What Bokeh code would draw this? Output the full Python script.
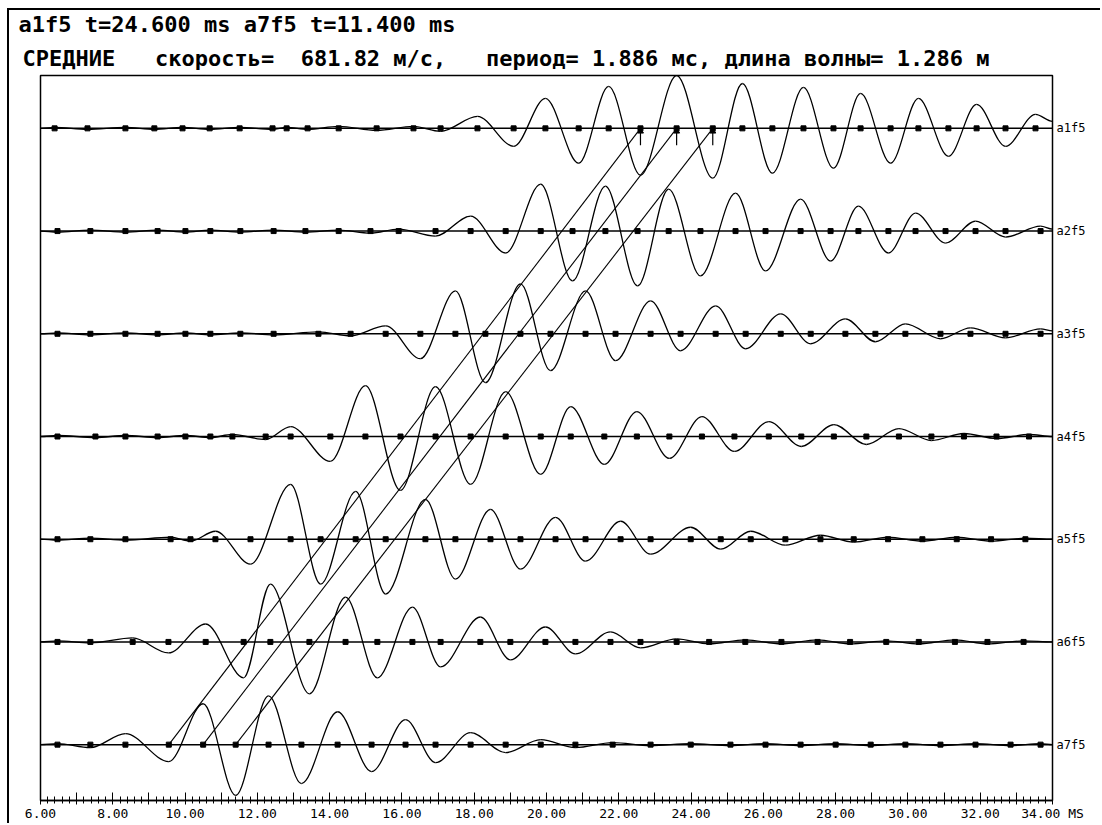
from bokeh.plotting import figure
from bokeh.models import Range1d, FixedTicker, LinearAxis, Title, ColumnDataSource
from bokeh.embed import file_html
from bokeh.resources import INLINE

# ---------------- data ----------------
trace_names = ["a1f5", "a2f5", "a3f5", "a4f5", "a5f5", "a6f5", "a7f5"]

# extrema of each trace: time (ms) and amplitude (in plot y units, 103 per trace spacing)
a1f5_t = [6.39, 7.30, 8.35, 9.15, 9.93, 10.68, 11.51, 12.42, 12.81, 13.39, 14.25, 15.30, 16.32, 17.07,
          18.09, 19.09, 19.97, 20.89, 21.72, 22.60, 23.60, 24.60, 25.42, 26.25, 27.11, 27.94, 28.69,
          29.52, 30.29, 31.12, 31.90, 32.70, 33.53]
a1f5_a = [1, -1, 1, -1, 1, -1, 1, -1, 1, -1, 2, -2, 2, -3,
          12, -18, 30, -35, 42, -47, 53, -50, 45, -45, 41, -40, 35, -35, 30, -28, 24, -18, 14]

a2f5_t = [6.47, 7.38, 8.35, 9.24, 10.01, 10.70, 11.53, 12.45, 13.33, 14.25, 15.13, 15.91,
          16.93, 17.90, 18.87, 19.84, 20.72, 21.63, 22.52, 23.38, 24.26, 25.23, 26.06, 27.03,
          27.86, 28.63, 29.46, 30.21, 31.04, 31.87, 32.70, 33.67]
a2f5_a = [-1, 1, -1, 1, -1, 1, -1, 1, -1, 1, -2, 2,
          -5, 15, -22, 47, -50, 45, -55, 42, -45, 38, -40, 32, -30, 25, -22, 18, -12, 10, -6, 5]

a3f5_t = [6.47, 7.38, 8.35, 9.24, 10.01, 10.70, 11.53, 12.45, 13.69, 14.58,
          15.55, 16.51, 17.48, 18.31, 19.28, 20.11, 21.08, 21.91, 22.88, 23.71, 24.68, 25.51,
          26.48, 27.31, 28.27, 29.10, 29.93, 30.90, 31.73, 32.70, 33.67]
a3f5_a = [1, -1, 1, -1, 1, -1, 1, -1, 2, -2,
          8, -25, 43, -49, 50, -37, 43, -27, 33, -17, 28, -15, 20, -10, 15, -8, 10, -5, 6, -4, 5]

a4f5_t = [6.47, 7.52, 8.35, 9.24, 10.01, 10.70, 11.31, 12.23,
          12.92, 14.02, 14.99, 15.96, 16.93, 17.90, 18.87, 19.84, 20.67, 21.60, 22.50, 23.40,
          24.30, 25.20, 26.15, 27.05, 27.95, 28.85, 29.75, 30.65, 31.55, 32.45, 33.35]
a4f5_a = [1, -1, 1, -1, 1, -1, 2, -3,
          10, -25, 51, -54, 50, -48, 45, -38, 30, -28, 25, -22, 20, -15, 15, -10, 12, -8, 8, -4, 3, -2, 2]

a5f5_t = [6.47, 7.38, 8.35, 9.60, 10.15,
          10.84, 11.81, 12.92, 13.75, 14.72, 15.55, 16.65, 17.48, 18.45, 19.28, 20.25, 21.08,
          22.05, 22.88, 23.99, 24.82, 25.65, 26.61, 27.58,
          28.50, 29.45, 30.40, 31.35, 32.30, 33.25]
a5f5_a = [-1, 1, -1, 2, -2,
          8, -25, 55, -45, 48, -55, 40, -40, 30, -30, 22, -22, 18, -15, 12, -10, 8, -6, 4,
          -3, 2, -2, 2, -2, 1]

a6f5_t = [6.47, 7.38, 8.55,
          9.54, 10.57, 11.62, 12.36, 13.44, 14.44, 15.32, 16.29, 17.07, 18.17, 19.00, 19.97,
          20.80, 21.77, 22.60,
          23.60, 24.50, 25.50, 26.50, 27.50, 28.40, 29.40, 30.30, 31.30, 32.20, 33.20]
a6f5_a = [1, -1, 4,
          -11, 18, -36, 58, -52, 45, -36, 35, -25, 25, -18, 15, -12, 10, -6,
          3, -2, 2, -2, 2, -2, 1, -2, 2, -2, 1]

a7f5_t = [6.47, 7.38, 8.35, 9.55, 10.50, 11.40, 12.31, 13.22, 14.22, 15.16, 16.10, 16.93,
          17.90, 18.87, 19.84, 20.80, 21.83, 22.88, 23.99, 25.09, 26.06, 27.03, 28.00, 28.97,
          29.93, 30.90, 31.87, 32.84, 33.67]
a7f5_a = [1, -3, 11, -17, 41, -51, 49, -39, 33, -27, 25, -18, 12, -8, 5, -3, 2, -1, 1, -1,
          1, -1, 1, -1, 1, -1, 1, -1, 1]

# value of each trace at the right edge of the window
end_amp = [7, 2, 3, 0, 0, 0, 0]

# phase-correlation lines: time on a7f5 -> time on a1f5 (ms)
line_t_a7 = [9.55, 10.50, 11.40]
line_t_a1 = [22.60, 23.60, 24.60]

NB = "\u00a0"  # keeps the wide gaps of the original header
title_1 = "a1f5 t=24.600 ms a7f5 t=11.400 ms"
title_2 = ("СРЕДНИЕ" + NB * 2 + " скорость=" + NB + " 681.82 м/с," + NB * 2
           + " период= 1.886 мс, длина волны= 1.286 м")

x_major_ticks = [6, 7, 8, 9, 10, 11, 12, 13, 14, 15, 16, 17, 18, 19, 20,
                 21, 22, 23, 24, 25, 26, 27, 28, 29, 30, 31, 32, 33, 34]
x_tick_labels = ["6.00", "", "8.00", "", "10.00", "", "12.00", "", "14.00", "", "16.00", "",
                 "18.00", "", "20.00", "", "22.00", "", "24.00", "", "26.00", "", "28.00", "",
                 "30.00", "", "32.00", "", "34.00 MS"]

# ---------------- layout constants ----------------
W, H = 1100, 823
T0, T1 = 6.0, 34.0
SP = 103
baselines = [SP * (6 - i) for i in range(7)]
MONO = "DejaVu Sans Mono"

traces = [(a1f5_t, a1f5_a), (a2f5_t, a2f5_a), (a3f5_t, a3f5_a), (a4f5_t, a4f5_a),
          (a5f5_t, a5f5_a), (a6f5_t, a6f5_a), (a7f5_t, a7f5_a)]

p = figure(width=W, height=H, x_range=Range1d(T0, T1), y_range=Range1d(-56, SP * 6 + 53),
           output_backend="svg", toolbar_location=None, title=None,
           min_border_left=40, min_border_right=48, min_border_top=75, min_border_bottom=21,
           y_axis_location=None)
p.grid.visible = False
p.background_fill_color = "white"
p.border_fill_color = None
p.outline_line_color = "black"
p.outline_line_width = 1.5
p.outline_line_alpha = 1.0
# outer frame lines (left and top) of the whole window
p.styles = {
    "background-color": "white",
    "background-image": "linear-gradient(#000, #000), linear-gradient(#000, #000)",
    "background-size": "2px 100%, 100% 2px",
    "background-position": "7px 8px, 7px 8px",
    "background-repeat": "no-repeat",
}

# bottom axis
xa = p.xaxis[0]
xa.ticker = FixedTicker(ticks=x_major_ticks,
                        minor_ticks=[T0 + 0.2 * k for k in range(141)])
xa.major_label_overrides = {t: lab for t, lab in zip(x_major_ticks, x_tick_labels)}
xa.axis_line_color = "black"
xa.axis_line_width = 1.5
xa.major_tick_line_color = "black"
xa.minor_tick_line_color = "black"
xa.major_tick_in = 8
xa.major_tick_out = 4
xa.minor_tick_in = 4
xa.minor_tick_out = 3
xa.major_label_standoff = 1
xa.major_label_text_font = MONO
xa.major_label_text_font_size = "13px"
xa.major_label_text_color = "black"

# right axis with trace names
ra = LinearAxis(ticker=FixedTicker(ticks=baselines),
                major_label_overrides={b: n for b, n in zip(baselines, trace_names)},
                axis_line_color=None, major_tick_in=0, major_tick_out=0,
                minor_tick_in=0, minor_tick_out=0, major_label_standoff=4,
                major_label_text_font=MONO, major_label_text_font_size="12px",
                major_label_text_color="black")
p.add_layout(ra, "right")

# header texts (second line nearest the plot, first line on top)
p.add_layout(Title(text=title_2, align="left", offset=-18, standoff=9,
                   text_font=MONO, text_font_style="bold", text_font_size="22px",
                   text_color="black"), "above")
p.add_layout(Title(text=title_1, align="left", offset=-22, standoff=6,
                   text_font=MONO, text_font_style="bold", text_font_size="22px",
                   text_color="black"), "above")

# baselines
p.segment(x0=[T0] * 7, x1=[T1] * 7, y0=baselines, y1=baselines, line_color="black", line_width=1.5)

# waveforms as smooth curves through the extrema
K = 1.0 / 3.0
seg = dict(x0=[], y0=[], x1=[], y1=[], cx0=[], cy0=[], cx1=[], cy1=[])
mx, my = [], []
for i, (ts, amps) in enumerate(traces):
    b = baselines[i]
    pts = [(T0, b)] + [(t, b + a) for t, a in zip(ts, amps)] + [(T1, b + end_amp[i])]
    for (t0, y0), (t1, y1) in zip(pts[:-1], pts[1:]):
        d = t1 - t0
        seg["x0"].append(t0); seg["y0"].append(y0)
        seg["x1"].append(t1); seg["y1"].append(y1)
        seg["cx0"].append(t0 + K * d); seg["cy0"].append(y0)
        seg["cx1"].append(t1 - K * d); seg["cy1"].append(y1)
    mx.extend(ts)
    my.extend([b] * len(ts))

p.bezier(x0="x0", y0="y0", x1="x1", y1="y1", cx0="cx0", cy0="cy0", cx1="cx1", cy1="cy1",
         source=ColumnDataSource(seg), line_color="black", line_width=1.3)

# extremum markers on the baselines
p.scatter(x=mx, y=my, marker="square", size=5, color="black")

# correlation lines a7f5 -> a1f5
p.segment(x0=line_t_a7, y0=[baselines[6]] * 3, x1=line_t_a1, y1=[baselines[0]] * 3,
          line_color="black", line_width=1.1)
# arrows at a1f5
p.segment(x0=line_t_a1, y0=[baselines[0] - 17] * 3, x1=line_t_a1, y1=[baselines[0]] * 3,
          line_color="black", line_width=1.2)
p.scatter(x=line_t_a1, y=[baselines[0] - 3] * 3, marker="triangle", size=6, color="black")

open("out.html", "w").write(file_html(p, INLINE))
